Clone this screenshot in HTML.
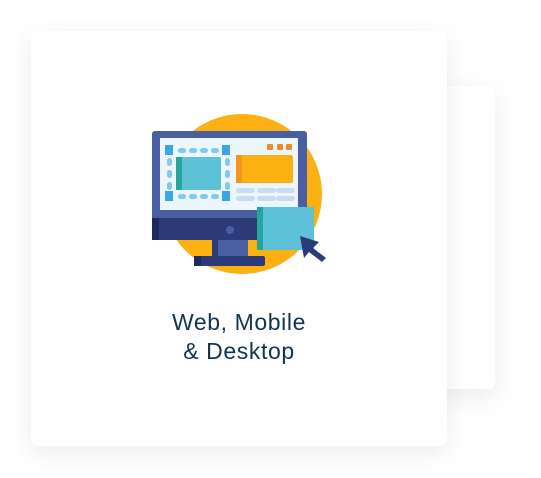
<!DOCTYPE html>
<html><head><style>
html,body{margin:0;padding:0;width:541px;height:478px;background:#fff;overflow:hidden;position:relative}
.back{position:absolute;left:398px;top:86px;width:97px;height:303px;background:#fff;border-radius:6px;box-shadow:0 8px 24px rgba(60,70,90,0.10)}
.card{position:absolute;left:31px;top:31px;width:416px;height:415px;background:#fff;border-radius:7px;box-shadow:0 6px 22px rgba(60,70,90,0.10)}
.t{position:absolute;left:31px;width:416px;top:308px;text-align:center;font-family:"Liberation Sans",sans-serif;font-size:23px;line-height:29px;letter-spacing:0.6px;color:#12344d}
</style></head><body>
<div class="back"></div>
<div class="card"></div>
<svg style="position:absolute;left:0;top:0" width="541" height="478">
<circle cx="242" cy="194" r="80" fill="#fdb011"/>
<rect x="152" y="131" width="155" height="109" rx="3" fill="#4a5ea2"/>
<rect x="152" y="218" width="155" height="22" fill="#2b3a78"/>
<rect x="152" y="218" width="7" height="22" fill="#1f2a5c"/>
<rect x="160" y="138" width="138" height="72" fill="#eef6fd"/>
<circle cx="230" cy="230" r="4" fill="#4a5ea2"/>
<rect x="212" y="240" width="36" height="16" fill="#4a5ea2"/>
<rect x="212" y="240" width="6" height="16" fill="#2b3a78"/>
<rect x="194" y="256" width="71" height="10" rx="2" fill="#2b3a78"/>
<rect x="194" y="256" width="7" height="10" fill="#1f2a5c"/>
<g fill="#7fcaf0">
<rect x="178" y="148" width="8" height="5" rx="2.5"/><rect x="189" y="148" width="8" height="5" rx="2.5"/><rect x="200" y="148" width="8" height="5" rx="2.5"/><rect x="211" y="148" width="8" height="5" rx="2.5"/>
<rect x="178" y="194" width="8" height="5" rx="2.5"/><rect x="189" y="194" width="8" height="5" rx="2.5"/><rect x="200" y="194" width="8" height="5" rx="2.5"/><rect x="211" y="194" width="8" height="5" rx="2.5"/>
<rect x="167" y="158" width="5" height="8" rx="2.5"/><rect x="167" y="170" width="5" height="8" rx="2.5"/><rect x="167" y="182" width="5" height="8" rx="2.5"/>
<rect x="225" y="158" width="5" height="8" rx="2.5"/><rect x="225" y="170" width="5" height="8" rx="2.5"/><rect x="225" y="182" width="5" height="8" rx="2.5"/>
</g>
<g fill="#3aa6e6">
<rect x="165" y="145" width="8" height="10"/><rect x="222" y="145" width="8" height="10"/>
<rect x="165" y="191" width="8" height="10"/><rect x="222" y="191" width="8" height="10"/>
</g>
<rect x="176" y="157" width="45" height="33" rx="2" fill="#5dc1d8"/>
<rect x="176" y="157" width="6" height="33" fill="#26a59c"/>
<g fill="#f0892a"><rect x="267" y="144" width="6" height="6" rx="1"/><rect x="277" y="144" width="6" height="6" rx="1"/><rect x="286" y="144" width="6" height="6" rx="1"/></g>
<rect x="236" y="155" width="57" height="28" rx="2" fill="#fdb011"/>
<rect x="236" y="155" width="6" height="28" fill="#f7941d"/>
<g fill="#c8ddf2">
<rect x="236" y="188" width="19" height="5" rx="2.5"/><rect x="257" y="188" width="19" height="5" rx="2.5"/><rect x="276" y="188" width="19" height="5" rx="2.5"/>
<rect x="236" y="196" width="19" height="5" rx="2.5"/><rect x="257" y="196" width="19" height="5" rx="2.5"/><rect x="276" y="196" width="19" height="5" rx="2.5"/>
</g>
<rect x="257" y="207" width="57" height="43" fill="#5dc1d8"/>
<rect x="257" y="207" width="6" height="43" fill="#26a59c"/>
<path d="M300 236 L319 242 L313 248 L326 258 L322 262 L309 252 L304 258 Z" fill="#2b3a78"/>
</svg>
<div class="t">Web, Mobile<br>&amp; Desktop</div>
</body></html>
